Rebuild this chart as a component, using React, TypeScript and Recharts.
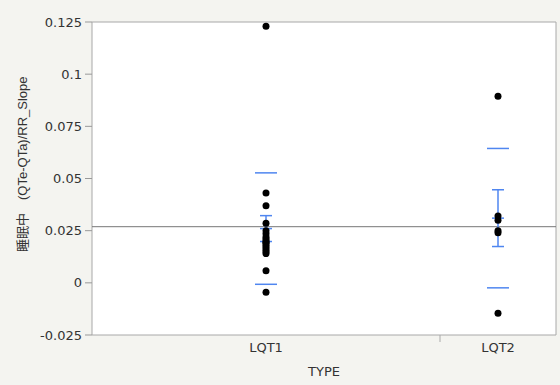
import { ScatterChart, Scatter, XAxis, YAxis, ReferenceLine, ReferenceArea, ErrorBar } from 'recharts';

const groups = ['LQT1', 'LQT2'];
const groupCounts = [18, 6];
const lqt1Values = [
  0.123, 0.043, 0.037, 0.0285, 0.025, 0.0235, 0.022, 0.021, 0.02, 0.0195,
  0.019, 0.018, 0.017, 0.016, 0.015, 0.014, 0.0058, -0.0045,
];
const lqt2Values = [0.0894, 0.032, 0.030, 0.025, 0.024, -0.0146];
const groupMeans = [0.026, 0.031];
const groupStdErr = [0.0062, 0.0136];
const groupStdDev = [0.0267, 0.0334];
const grandMean = 0.0269;
const yTicks = [-0.025, 0, 0.025, 0.05, 0.075, 0.1, 0.125];

const BLUE = '#4f86f0';
const TEXT = '#333';
const FONT = 'DejaVu Sans, sans-serif';

const total = groupCounts[0] + groupCounts[1];
const centers = [groupCounts[0] / 2, groupCounts[0] + groupCounts[1] / 2];
const divider = groupCounts[0];

const pointData = [
  ...lqt1Values.map((v) => ({ x: centers[0], y: v })),
  ...lqt2Values.map((v) => ({ x: centers[1], y: v })),
];
const meanData = groups.map((g, i) => ({ name: g, x: centers[i], y: groupMeans[i], err: groupStdErr[i] }));
const sdData = groups.flatMap((g, i) => [
  { x: centers[i], y: groupMeans[i] + groupStdDev[i] },
  { x: centers[i], y: groupMeans[i] - groupStdDev[i] },
]);

const hLine = (w: number) => (props: any) => (
  <line x1={props.cx - w / 2} x2={props.cx + w / 2} y1={props.cy} y2={props.cy} stroke={BLUE} strokeWidth={1.5} />
);

const Dot = (props: any) => <circle cx={props.cx} cy={props.cy} r={3.5} fill="#000" />;

const XTick = (props: any) => {
  const { x, y, payload } = props;
  if (payload.value === divider) {
    return <line x1={x} x2={x} y1={335} y2={342} stroke="#aaa" />;
  }
  const label = groups[centers.indexOf(payload.value)];
  return (
    <text x={x} y={352} textAnchor="middle" fontSize={13} fontFamily={FONT} fill={TEXT}>
      {label}
    </text>
  );
};

const YLabel = () => (
  <text x={27} y={252} transform="rotate(-90 27 252)" fontSize={13} fontFamily="Liberation Sans, Noto Sans CJK JP, sans-serif" fill={TEXT}>
    睡眠中
    <tspan dx={13}>(QTe-QTa)/RR_Slope</tspan>
  </text>
);

export default function App() {
  return (
    <div style={{ position: 'fixed', left: 0, top: 0, width: 560, height: 385, background: '#f4f4f0' }}>
      <ScatterChart width={560} height={385} margin={{ top: 22, right: 4, left: 0, bottom: 0 }}>
        <ReferenceArea x1={0} x2={total} y1={-0.025} y2={0.125} fill="#fff" fillOpacity={1} stroke="#a8a8a8" />
        <XAxis
          type="number"
          dataKey="x"
          domain={[0, total]}
          ticks={[centers[0], divider, centers[1]]}
          tick={XTick}
          tickLine={false}
          axisLine={false}
          height={50}
          label={{ value: 'TYPE', position: 'insideBottom', offset: 9, fontSize: 13, fontFamily: FONT, fill: TEXT }}
        />
        <YAxis
          type="number"
          dataKey="y"
          domain={[-0.025, 0.125]}
          ticks={yTicks}
          width={92}
          axisLine={false}
          tickSize={7}
          tickMargin={3}
          tickLine={{ stroke: '#999' }}
          tick={{ fontSize: 13, fontFamily: FONT, fill: TEXT }}
          label={{ content: YLabel }}
        />
        <ReferenceLine y={grandMean} stroke="#777" strokeWidth={1} />
        <Scatter data={sdData} shape={hLine(22)} isAnimationActive={false} />
        <Scatter data={meanData} shape={hLine(12)} isAnimationActive={false}>
          <ErrorBar dataKey="err" direction="y" width={6} stroke={BLUE} strokeWidth={1.5} />
        </Scatter>
        <Scatter data={pointData} shape={Dot} isAnimationActive={false} />
      </ScatterChart>
    </div>
  );
}
